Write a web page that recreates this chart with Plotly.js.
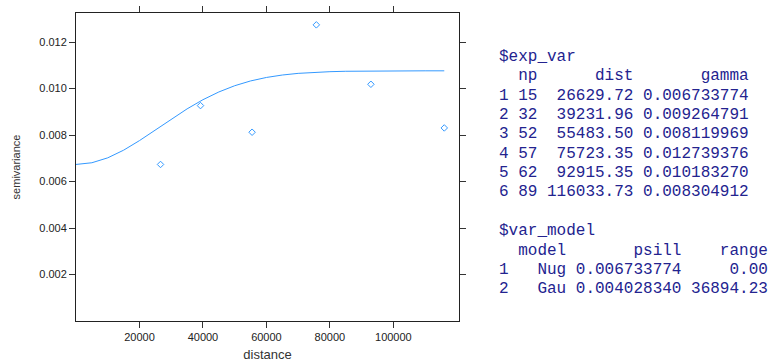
<!DOCTYPE html>
<html>
<head>
<meta charset="utf-8">
<script src="https://cdn.plot.ly/plotly-3.0.1.min.js"></script>
<style>html,body{margin:0;padding:0;background:#fff;}#chart{width:772px;height:362px;}</style>
</head>
<body>
<div id="chart"></div>
<script>
// Empirical variogram
const expNp = [15, 32, 52, 57, 62, 89];
const expDist = [26629.72, 39231.96, 55483.50, 75723.35, 92915.35, 116033.73];
const expGamma = [0.006733774, 0.009264791, 0.008119969, 0.012739376, 0.010183270, 0.008304912];

// Fitted model curve
const modelDist = [0, 5000, 10000, 15000, 20000, 25000, 30000, 35000, 40000, 45000, 50000, 55000,
  60000, 65000, 70000, 75000, 80000, 85000, 90000, 95000, 100000, 105000, 110000, 116033.73];
const modelGamma = [0.006734, 0.006807, 0.007019, 0.007348, 0.007760, 0.008217, 0.008683, 0.009124,
  0.009519, 0.009852, 0.010121, 0.010326, 0.010476, 0.010581, 0.010652, 0.010698, 0.010725,
  0.010742, 0.010752, 0.010757, 0.010760, 0.010761, 0.010762, 0.010762];

// Model table
const modelNames = ['Nug', 'Gau'];
const modelPsill = ['0.006733774', '0.004028340'];
const modelRange = ['0.00', '36894.23'];

const xTicks = [20000, 40000, 60000, 80000, 100000];
const yTicks = [0.002, 0.004, 0.006, 0.008, 0.010, 0.012];

function padL(s, n) { s = String(s); while (s.length < n) s = ' ' + s; return s; }

const lines = [];
lines.push('$exp_var');
lines.push('  np      dist       gamma');
for (let i = 0; i < expNp.length; i++) {
  lines.push((i + 1) + ' ' + padL(expNp[i], 2) + ' ' + padL(expDist[i].toFixed(2), 9) + ' ' + expGamma[i].toFixed(9));
}
lines.push('');
lines.push('$var_model');
lines.push('  model       psill    range');
for (let i = 0; i < modelNames.length; i++) {
  lines.push((i + 1) + ' ' + padL(modelNames[i], 5) + ' ' + padL(modelPsill[i], 11) + ' ' + padL(modelRange[i], 8));
}

const plotL = 76, plotR = 459, plotT = 13, plotB = 321;
const W = plotR - plotL, H = plotB - plotT;
const annotations = [];
lines.forEach((t, i) => {
  if (!t) return;
  const yPx = 57 + 19.35 * i;
  annotations.push({
    xref: 'paper', yref: 'paper',
    x: (498 - plotL) / W, y: (plotB - yPx) / H,
    xanchor: 'left', yanchor: 'middle',
    showarrow: false, borderpad: 0,
    text: t.replace(/ /g, '\u00a0'),
    font: {family: '"Liberation Mono", "DejaVu Sans Mono", monospace', size: 16, color: '#23238f'}
  });
});

const col = '#3399ff';
const traces = [
  {x: modelDist, y: modelGamma, type: 'scatter', mode: 'lines', line: {color: col, width: 1}, hoverinfo: 'skip'},
  {x: expDist, y: expGamma, type: 'scatter', mode: 'markers',
   marker: {symbol: 'diamond-open', size: 5, color: col, line: {width: 1, color: col}}}
];

const axisCommon = {
  showgrid: false, zeroline: false, showline: true, linecolor: '#222', linewidth: 1,
  mirror: 'ticks', ticks: 'outside', ticklen: 6, tickcolor: '#333', tickwidth: 1,
  tickfont: {family: 'Arial, "Liberation Sans", sans-serif', size: 11, color: '#222'}
};

const layout = {
  width: 772, height: 362,
  margin: {l: plotL, r: 772 - plotR, t: plotT, b: 362 - plotB},
  paper_bgcolor: '#fff', plot_bgcolor: '#fff',
  showlegend: false,
  xaxis: Object.assign({}, axisCommon, {
    range: [0, 120675], tickvals: xTicks, ticktext: xTicks.map(String),
    title: {text: 'distance', font: {family: 'Arial, "Liberation Sans", sans-serif', size: 13, color: '#333'}, standoff: 8}
  }),
  yaxis: Object.assign({}, axisCommon, {
    range: [0, 0.013249], tickvals: yTicks, ticktext: yTicks.map(v => v.toFixed(3)),
    title: {text: 'semivariance', font: {family: 'Arial, "Liberation Sans", sans-serif', size: 11, color: '#333'}, standoff: 16}
  }),
  annotations: annotations
};

Plotly.newPlot('chart', traces, layout, {staticPlot: true, displayModeBar: false});
</script>
</body>
</html>
